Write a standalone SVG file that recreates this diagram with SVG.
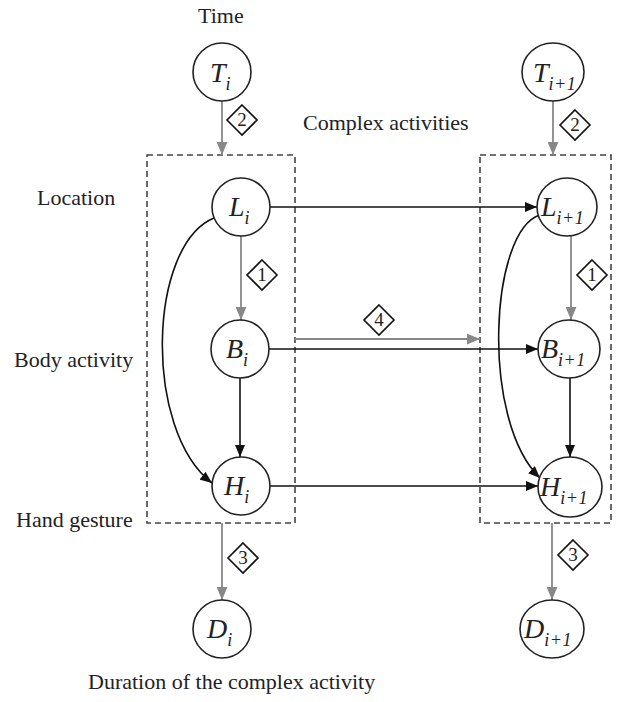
<svg xmlns="http://www.w3.org/2000/svg" width="633" height="702" viewBox="0 0 633 702">
<style>
.lbl{font-family:"Liberation Serif","Times New Roman",serif;font-size:22px;fill:#222}
.node{fill:#fff;stroke:#222;stroke-width:1.6}
.nm{font-family:"Liberation Serif","Times New Roman",serif;font-style:italic;font-size:28px;fill:#222}
.sub{font-size:18px;letter-spacing:0.5px}
.box{fill:none;stroke:#444;stroke-width:1.6;stroke-dasharray:6 4}
.blk{fill:none;stroke:#111;stroke-width:1.6}
.gry{fill:none;stroke:#888;stroke-width:1.8}
.dia{fill:#fff;stroke:#111;stroke-width:1.6}
.dn{font-family:"Liberation Serif","Times New Roman",serif;font-size:19px;fill:#222;text-anchor:middle}
</style>
<defs>
<marker id="ab" viewBox="0 0 12 10" refX="12" refY="5" markerWidth="12" markerHeight="10" markerUnits="userSpaceOnUse" orient="auto"><path d="M0,0 L12,5 L0,10 z" fill="#111"/></marker>
<marker id="ag" viewBox="0 0 12 10" refX="12" refY="5" markerWidth="13" markerHeight="11" markerUnits="userSpaceOnUse" orient="auto"><path d="M0,0 L12,5 L0,10 z" fill="#888"/></marker>
<path id="dm" d="M0,-15 L15,0 L0,15 L-15,0 z"/>
</defs>

<g id="labels">
<text class="lbl" x="198" y="23">Time</text>
<text class="lbl" x="303" y="130">Complex activities</text>
<text class="lbl" x="37" y="205">Location</text>
<text class="lbl" x="14" y="367">Body activity</text>
<text class="lbl" x="16" y="527">Hand gesture</text>
<text class="lbl" x="88" y="689">Duration of the complex activity</text>
</g>

<g id="boxes">
<rect class="box" x="147" y="155" width="148" height="368"/>
<rect class="box" x="480" y="155" width="131" height="368"/>
</g>

<g id="connectors">
<line class="gry" x1="222" y1="101" x2="222" y2="155" marker-end="url(#ag)"/>
<line class="gry" x1="241" y1="236" x2="241" y2="320" marker-end="url(#ag)"/>
<line class="gry" x1="222" y1="523" x2="222" y2="600" marker-end="url(#ag)"/>
<line class="gry" x1="553" y1="101" x2="553" y2="155" marker-end="url(#ag)"/>
<line class="gry" x1="571" y1="236" x2="571" y2="320" marker-end="url(#ag)"/>
<line class="gry" x1="552" y1="523" x2="552" y2="600" marker-end="url(#ag)"/>
<line class="gry" x1="295" y1="339" x2="480" y2="339" marker-end="url(#ag)"/>
<line class="blk" x1="270" y1="207" x2="537" y2="207" marker-end="url(#ab)"/>
<line class="blk" x1="269" y1="349" x2="538" y2="349" marker-end="url(#ab)"/>
<line class="blk" x1="270" y1="486" x2="538" y2="486" marker-end="url(#ab)"/>
<line class="blk" x1="240" y1="378" x2="240" y2="457" marker-end="url(#ab)"/>
<line class="blk" x1="570" y1="378" x2="570" y2="457" marker-end="url(#ab)"/>
<path class="blk" d="M214,218 C148,245 143,430 212,483" marker-end="url(#ab)"/>
<path class="blk" d="M540,215 C490,230 480,420 540,478" marker-end="url(#ab)"/>
</g>

<g id="badges">
<g transform="translate(242,120)"><use href="#dm" class="dia"/><text class="dn" y="6">2</text></g>
<g transform="translate(575,125)"><use href="#dm" class="dia"/><text class="dn" y="6">2</text></g>
<g transform="translate(262,275)"><use href="#dm" class="dia"/><text class="dn" y="6">1</text></g>
<g transform="translate(592,275)"><use href="#dm" class="dia"/><text class="dn" y="6">1</text></g>
<g transform="translate(379,320)"><use href="#dm" class="dia"/><text class="dn" y="6">4</text></g>
<g transform="translate(243,558)"><use href="#dm" class="dia"/><text class="dn" y="6">3</text></g>
<g transform="translate(573,555)"><use href="#dm" class="dia"/><text class="dn" y="6">3</text></g>
</g>

<g id="T_i"><circle class="node" cx="222" cy="72" r="29"/><text class="nm" x="210" y="82">T<tspan class="sub" dy="8">i</tspan></text></g>
<g id="T_i1"><ellipse class="node" cx="553" cy="72" rx="31" ry="29"/><text class="nm" x="533" y="82">T<tspan class="sub" dy="8">i+1</tspan></text></g>
<g id="L_i"><circle class="node" cx="241" cy="207" r="29"/><text class="nm" x="229" y="216">L<tspan class="sub" dy="8">i</tspan></text></g>
<g id="L_i1"><ellipse class="node" cx="567" cy="207" rx="30" ry="29"/><text class="nm" x="541" y="216">L<tspan class="sub" dy="8">i+1</tspan></text></g>
<g id="B_i"><circle class="node" cx="240" cy="349" r="29"/><text class="nm" x="226" y="358">B<tspan class="sub" dy="8">i</tspan></text></g>
<g id="B_i1"><ellipse class="node" cx="569" cy="349" rx="31" ry="29"/><text class="nm" x="541" y="358">B<tspan class="sub" dy="8">i+1</tspan></text></g>
<g id="H_i"><circle class="node" cx="241" cy="486" r="29"/><text class="nm" x="224" y="495">H<tspan class="sub" dy="8">i</tspan></text></g>
<g id="H_i1"><ellipse class="node" cx="570" cy="487" rx="32" ry="30"/><text class="nm" x="540" y="496">H<tspan class="sub" dy="8">i+1</tspan></text></g>
<g id="D_i"><circle class="node" cx="222" cy="629" r="29"/><text class="nm" x="207" y="638">D<tspan class="sub" dy="8">i</tspan></text></g>
<g id="D_i1"><ellipse class="node" cx="552" cy="629" rx="32" ry="29"/><text class="nm" x="524" y="638">D<tspan class="sub" dy="8">i+1</tspan></text></g>
</svg>
